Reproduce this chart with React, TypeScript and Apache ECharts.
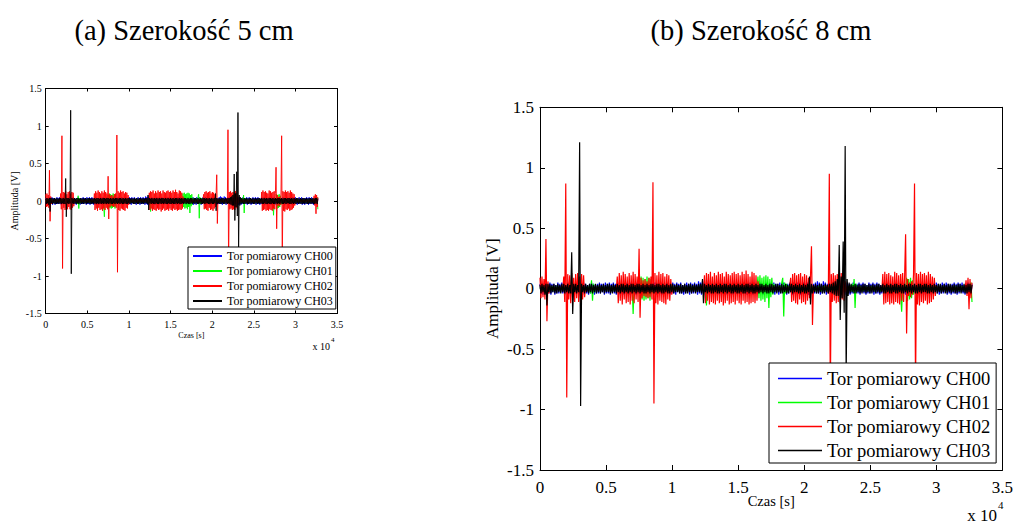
import React, { useEffect, useRef } from "react";
import * as echarts from "echarts";

// time step between samples (s)
const STEP = 75;
const SERIES_NAMES = ["Tor pomiarowy CH00", "Tor pomiarowy CH01", "Tor pomiarowy CH02", "Tor pomiarowy CH03"];
const SERIES_COLORS = ["#0000ff", "#00ff00", "#ff0000", "#000000"];
const X_TICKS_LABELS = ["0", "0.5", "1", "1.5", "2", "2.5", "3", "3.5"];

// CH00 (blue)
const ch00 = [
  0.04,-0.04,0.03,-0.05,0.04,-0.03,0.05,-0.04,0.03,-0.04, 0.05,-0.05,0.04,-0.03,0.04,-0.05,0.03,-0.04,0.05,-0.04, 0.04,-0.03,0.05,-0.04,0.04,-0.05,0.03,-0.04,0.05,-0.03, 0.04,-0.04,0.05,-0.05,0.03,-0.04,0.04,-0.03,0.05,-0.04,
  0.03,-0.04,0.04,-0.05,0.05,-0.03,0.04,-0.04,0.03,-0.05, 0.04,-0.04,0.05,-0.03,0.04,-0.05,0.03,-0.04,0.04,-0.04, 0.05,-0.04,0.04,-0.03,0.04,-0.05,0.05,-0.04,0.04,-0.04, 0.05,-0.05,0.04,-0.03,0.05,-0.04,0.04,-0.05,0.03,-0.04,
  0.05,-0.05,0.04,-0.04,0.03,-0.05,0.04,-0.04,0.05,-0.03, 0.04,-0.05,0.05,-0.04,0.03,-0.04,0.04,-0.05,0.05,-0.04, 0.04,-0.04,0.05,-0.03,0.04,-0.05,0.03,-0.04,0.05,-0.04, 0.04,-0.05,0.05,-0.03,0.04,-0.04,0.05,-0.05,0.04,-0.03,
  0.04,-0.04,0.05,-0.05,0.03,-0.04,0.04,-0.03,0.05,-0.04, 0.04,-0.05,0.03,-0.04,0.05,-0.04,0.04,-0.05,0.05,-0.03, 0.04,-0.04,0.05,-0.04,0.03,-0.05,0.04,-0.04,0.05,-0.03, 0.04,-0.05,0.05,-0.04,0.04,-0.04,0.05,-0.03,0.04,-0.05,
  0.06,-0.04,0.05,-0.05,0.06,-0.04,0.05,-0.05,0.04,-0.03, 0.05,-0.05,0.04,-0.04,0.03,-0.05,0.04,-0.04,0.05,-0.04, 0.04,-0.05,0.05,-0.04,0.04,-0.03,0.05,-0.04,0.03,-0.05, 0.04,-0.04,0.05,-0.03,0.04,-0.05,0.05,-0.04,0.04,-0.04,
  0.05,-0.03,0.04,-0.05,0.04,-0.04,0.05,-0.04,0.03,-0.05, 0.04,-0.04,0.05,-0.03,0.04,-0.05,0.05,-0.04,0.04,-0.04, 0.04,-0.04,0.05,-0.03,0.04,-0.05,0.03,-0.04,0.05,-0.04, 0.04,-0.05,0.05,-0.03,0.04,-0.04,0.05,-0.05,0.04,-0.03,
  0.04,-0.05,0.05,-0.04,0.04,-0.03,0.05,-0.04,0.03,-0.05, 0.04,-0.04,0.05,-0.03,0.04,-0.05,0.05,-0.04,0.04,-0.04, 0.05,-0.04,0.04,-0.05,0.03,-0.04,0.05,-0.04,0.04,-0.03, 0.05,-0.05,0.04,-0.04,0.03,-0.05,0.04,-0.04,0.05,-0.04,
  0.06,-0.04,0.05,-0.05,0.04,-0.04,0.06,-0.03,0.05,-0.05, 0.04,-0.04,0.05,-0.04,0.03,-0.05,0.04,-0.04,0.05,-0.03, 0.04,-0.05,0.05,-0.04,0.04,-0.04,0.05,-0.03,0.04,-0.05, 0.05,-0.04,0.04,-0.05,0.03,-0.04,0.05,-0.04,0.04,-0.03,
  0.04,-0.04,0.05,-0.05,0.04,-0.03,0.05,-0.04,0.04,-0.05, 0.03,-0.04,0.05,-0.04,0.04,-0.03,0.05,-0.05,0.04,-0.04, 0.05,-0.04,0.04,-0.05,0.03,-0.04,0.05,-0.04,0.04,-0.03, 0.05,-0.05,0.04,-0.04,0.03,-0.05,0.04,-0.04,0.05,-0.04,
  0.04,-0.05,0.05,-0.04,0.04,-0.03,0.05,-0.04,0.03,-0.05, 0.04,-0.04,0.05,-0.03,0.04,-0.05,0.05,-0.04,0.04,-0.04, 0.05,-0.03,0.04,-0.05,0.04,-0.04,0.05,-0.04,0.03,-0.05, 0.04,-0.04,0.05,-0.03,0.04,-0.05,0.05,-0.04,0.04,-0.04,
  0.05,-0.04,0.04,-0.05,0.03,-0.04,0.05,-0.04,0.04,-0.03, 0.05,-0.05,0.04,-0.04,0.03,-0.05,0.04,-0.04,0.05,-0.04, 0.04,-0.05,0.05,-0.04,0.04,-0.03,0.05,-0.04,0.03,-0.05, 0.04,-0.04,0.05,-0.03,0.04,-0.05,0.04,
];

// CH01 (green)
const ch01 = [
  0.01,-0.01,0.02,-0.01,0.01,-0.02,0.01,-0.01,0.02,-0.01, 0.01,-0.01,0.02,-0.02,0.01,-0.01,0.02,-0.01,0.01,-0.02, 0.01,-0.01,0.02,-0.01,0.01,-0.02,0.01,-0.01,0.02,-0.01, 0.01,-0.01,0.02,-0.02,0.01,-0.01,0.02,-0.01,0.01,-0.02,
  0.01,-0.01,0.02,-0.01,0.01,-0.02,0.01,-0.01,0.02,-0.01, 0.03,-0.04,0.07,-0.10,0.04,-0.03,0.01,-0.01,0.02,-0.01, 0.01,-0.02,0.01,-0.01,0.02,-0.01,0.01,-0.01,0.02,-0.02, 0.01,-0.01,0.02,-0.01,0.01,-0.02,0.01,-0.01,0.02,-0.01,
  0.01,-0.01,0.02,-0.02,0.01,-0.01,0.02,-0.01,0.01,-0.02, 0.01,-0.01,0.02,0.02,-0.21,0.01,-0.02,0.01,-0.01,0.02, 0.08,-0.10,0.10,-0.09,0.09,-0.10,0.08,-0.09,0.10,-0.08, 0.09,-0.10,0.08,-0.04,0.02,-0.01,0.01,-0.02,0.01,-0.01,
  0.02,-0.01,0.01,-0.02,0.01,-0.01,0.02,-0.01,0.01,-0.01, 0.02,-0.02,0.01,-0.01,0.02,-0.01,0.01,-0.02,0.01,-0.01, 0.02,-0.01,0.01,-0.02,0.01,-0.01,0.02,-0.01,0.01,-0.01, 0.02,-0.02,0.01,-0.01,0.02,-0.01,0.01,-0.02,0.01,-0.01,
  0.02,-0.01,0.01,-0.02,0.01,-0.01,0.02,0.03,-0.14,0.02, -0.01,0.01,-0.02,0.01,-0.01,0.02,-0.01,0.01,-0.02,0.01, -0.01,0.02,-0.01,0.01,-0.02,0.01,-0.01,0.02,-0.01,0.01, -0.02,0.01,-0.01,0.02,-0.01,0.01,-0.02,0.01,-0.01,0.02,
  -0.01,0.01,-0.02,0.01,-0.01,0.02,-0.01,0.01,-0.02,0.01, -0.01,0.02,-0.01,0.01,-0.02,0.01,-0.01,0.02,-0.01,0.01, 0.10,-0.08,0.11,-0.10,0.09,-0.09,0.10,-0.11,0.11,-0.08, 0.10,-0.16,0.08,-0.07,0.09,-0.05,0.04,-0.02,0.01,-0.01,
  0.02,-0.01,0.03,-0.03,0.05,0.09,-0.23,0.05,-0.04,0.04, -0.03,0.02,-0.01,0.01,-0.02,0.01,-0.01,0.02,-0.01,0.01, -0.02,0.01,-0.01,0.02,-0.01,0.01,-0.02,0.01,-0.01,0.02, -0.01,0.01,-0.02,0.01,-0.01,0.02,-0.01,0.01,-0.02,0.01,
  -0.01,0.02,-0.01,0.01,-0.02,0.01,-0.01,0.02,-0.01,0.01, -0.02,0.01,-0.01,0.02,-0.01,0.01,-0.02,0.01,-0.01,0.02, -0.01,0.01,-0.02,0.01,-0.01,0.02,-0.01,0.01,-0.02,0.01, -0.01,0.02,-0.01,0.03,-0.02,0.04,-0.03,0.08,-0.16,0.04,
  -0.02,0.01,-0.01,0.02,-0.01,0.01,-0.02,0.01,-0.01,0.02, -0.01,0.01,-0.02,0.01,-0.01,0.02,-0.01,0.01,-0.02,0.01, -0.01,0.02,-0.01,0.01,-0.02,0.01,-0.01,0.02,-0.01,0.01, -0.02,0.01,-0.01,0.02,-0.01,0.01,-0.02,0.01,-0.01,0.02,
  -0.01,0.01,-0.02,0.03,-0.04,-0.19,0.03,-0.02,0.01,-0.01, 0.09,-0.10,0.08,-0.09,0.09,-0.08,0.07,-0.05,0.02,-0.01, 0.01,-0.02,0.01,-0.01,0.02,-0.01,0.01,-0.02,0.01,-0.01, 0.02,-0.01,0.01,-0.02,0.01,-0.01,0.02,-0.01,0.01,-0.02,
  0.01,-0.01,0.02,-0.01,0.01,-0.02,0.01,-0.01,0.02,-0.01, 0.01,-0.02,0.01,-0.01,0.02,-0.01,0.01,-0.02,0.01,-0.01, 0.02,-0.01,0.01,-0.02,0.01,-0.01,0.02,-0.01,0.01,-0.02, 0.01,-0.01,0.02,-0.03,0.03,0.05,-0.11,
];

// CH02 (red)
const ch02 = [
  0.09,-0.08,0.10,-0.07,0.08,-0.09,0.41,-0.27,0.06,-0.04, 0.01,-0.01,0.01,-0.01,0.01,-0.01,0.01,-0.01,0.01,-0.01, 0.01,-0.01,0.02,-0.01,0.10,-0.11,0.87,-0.90,0.12,-0.09, 0.11,-0.12,0.13,-0.10,0.09,-0.11,0.12,-0.08,0.13,-0.11,
  0.10,-0.12,0.12,-0.09,0.11,-0.07,0.01,-0.01,0.01,-0.01, 0.01,-0.01,0.01,-0.01,0.01,-0.01,0.01,-0.01,0.01,-0.01, 0.01,-0.01,0.01,-0.01,0.01,-0.01,0.01,-0.01,0.01,-0.01, 0.01,-0.01,0.01,-0.01,0.01,-0.01,0.01,-0.01,0.10,-0.12,
  0.13,-0.10,0.11,-0.13,0.14,-0.09,0.12,-0.12,0.10,-0.11, 0.13,-0.13,0.11,-0.10,0.14,-0.12,0.12,-0.09,0.10,-0.11, 0.33,-0.24,0.09,-0.08,0.07,-0.06,0.08,-0.07,0.06,-0.08, 0.09,-0.07,0.10,-0.09,0.88,-0.95,0.13,-0.12,0.11,-0.13,
  0.14,-0.10,0.12,-0.11,0.13,-0.12,0.10,-0.13,0.12,-0.09, 0.11,-0.10,0.08,-0.05,0.01,-0.01,0.01,-0.01,0.01,-0.01, 0.01,-0.01,0.01,-0.01,0.01,-0.01,0.01,-0.01,0.01,-0.01, 0.01,-0.01,0.01,-0.01,0.01,-0.01,0.01,-0.01,0.01,-0.01,
  0.01,-0.01,0.01,-0.01,0.01,-0.02,0.11,-0.12,0.13,-0.10, 0.12,-0.13,0.14,-0.11,0.10,-0.12,0.13,-0.13,0.11,-0.10, 0.14,-0.12,0.12,-0.11,0.13,-0.14,0.10,-0.12,0.14,-0.10, 0.12,-0.13,0.11,-0.12,0.13,-0.11,0.14,-0.13,0.12,-0.10,
  0.13,-0.12,0.11,-0.13,0.14,-0.10,0.12,-0.12,0.15,-0.11, 0.12,-0.13,0.10,-0.12,0.14,-0.11,0.13,-0.12,0.11,-0.10, 0.06,-0.03,0.01,-0.01,0.01,-0.01,0.01,-0.01,0.01,-0.01, 0.01,-0.01,0.01,-0.01,0.01,-0.01,0.01,-0.01,0.01,-0.01,
  0.01,-0.01,0.01,-0.01,0.01,-0.01,0.01,-0.01,0.01,-0.01, 0.01,-0.01,0.02,0.09,-0.11,0.12,-0.10,0.13,-0.12,0.11, -0.13,0.12,-0.09,0.13,-0.12,0.10,-0.11,0.12,-0.13,0.11, -0.10,0.09,-0.08,0.10,0.35,-0.30,0.02,-0.01,0.01,-0.01,
  0.01,-0.01,0.01,-0.01,0.01,-0.01,0.01,-0.01,0.01,-0.01, 0.03,-0.04,0.95,-0.90,0.12,-0.11,0.13,-0.10,0.11,-0.12, 0.12,-0.11,0.10,-0.12,0.13,-0.09,0.11,-0.10,0.06,-0.03, 0.01,-0.01,0.01,-0.01,0.01,-0.01,0.01,-0.01,0.01,-0.01,
  0.01,-0.01,0.01,-0.01,0.01,-0.01,0.01,-0.01,0.01,-0.01, 0.01,-0.01,0.01,-0.01,0.01,-0.01,0.01,-0.01,0.01,-0.01, 0.01,-0.01,0.01,-0.01,0.01,-0.02,0.12,-0.13,0.14,-0.12, 0.12,-0.11,0.13,-0.13,0.11,-0.12,0.10,-0.13,0.14,-0.11,
  0.13,-0.12,0.11,-0.13,0.12,-0.10,0.13,-0.11,0.10,0.45, -0.37,0.08,-0.06,0.05,-0.07,0.06,-0.05,0.12,0.87,-0.85, 0.13,-0.13,0.12,-0.14,0.14,-0.11,0.12,-0.12,0.13,-0.10, 0.11,-0.13,0.14,-0.12,0.12,-0.11,0.10,-0.09,0.09,-0.06,
  0.03,-0.01,0.01,-0.01,0.01,-0.01,0.01,-0.01,0.01,-0.01, 0.01,-0.01,0.01,-0.01,0.01,-0.01,0.01,-0.01,0.01,-0.01, 0.01,-0.01,0.01,-0.01,0.01,-0.01,0.01,-0.01,0.01,-0.01, 0.07,-0.06,0.09,-0.17,0.08,-0.08,0.05,
];

// CH03 (black)
const ch03 = [
  0.03,-0.04,0.04,-0.03,0.03,-0.05,0.04,-0.14,0.04,-0.03, 0.04,-0.04,0.03,-0.03,0.04,-0.04,0.03,-0.04,0.04,-0.03, 0.03,-0.04,0.04,-0.03,0.04,-0.04,0.03,-0.03,0.04,-0.04, 0.03,-0.04,0.30,-0.21,0.04,-0.03,0.04,-0.04,0.03,-0.03,
  1.21,-0.97,0.04,-0.03,0.03,-0.04,0.04,-0.03,0.03,-0.04, 0.04,-0.03,0.04,-0.04,0.03,-0.03,0.04,-0.04,0.03,-0.03, 0.04,-0.04,0.03,-0.03,0.04,-0.04,0.03,-0.03,0.04,-0.03, 0.04,-0.04,0.03,-0.04,0.04,-0.03,0.03,-0.04,0.04,-0.03,
  0.03,-0.04,0.04,-0.03,0.04,-0.04,0.03,-0.03,0.04,-0.04, 0.03,-0.03,0.04,-0.04,0.04,-0.03,0.03,-0.04,0.04,-0.03, 0.04,-0.04,0.03,-0.03,0.04,-0.04,0.03,-0.04,0.04,-0.03, 0.03,-0.04,0.04,-0.03,0.04,-0.04,0.03,-0.03,0.04,-0.04,
  0.04,-0.03,0.03,-0.04,0.04,-0.04,0.03,-0.03,0.04,-0.04, 0.03,-0.04,0.04,-0.03,0.04,-0.04,0.03,-0.03,0.04,-0.03, 0.03,-0.04,0.04,-0.04,0.03,-0.03,0.04,-0.04,0.03,-0.04, 0.04,-0.03,0.04,-0.04,0.03,-0.03,0.04,-0.04,0.03,-0.03,
  0.04,-0.03,0.04,-0.04,0.08,-0.12,0.04,-0.03,0.03,-0.04, 0.04,-0.03,0.03,-0.04,0.04,-0.04,0.03,-0.03,0.04,-0.04, 0.03,-0.04,0.04,-0.03,0.03,-0.04,0.04,-0.03,0.04,-0.04, 0.03,-0.03,0.04,-0.04,0.03,-0.04,0.04,-0.03,0.03,-0.04,
  0.04,-0.04,0.03,-0.03,0.04,-0.04,0.03,-0.04,0.04,-0.03, 0.04,-0.04,0.03,-0.03,0.04,-0.04,0.03,-0.04,0.04,-0.03, 0.03,-0.04,0.04,-0.03,0.04,-0.04,0.03,-0.03,0.04,-0.04, 0.03,-0.04,0.04,-0.03,0.04,-0.04,0.03,-0.03,0.04,-0.04,
  0.04,-0.03,0.03,-0.04,0.04,-0.04,0.03,-0.03,0.04,-0.04, 0.03,-0.04,0.04,-0.03,0.04,-0.04,0.03,-0.03,0.04,-0.03, 0.03,-0.04,0.04,-0.04,0.03,-0.03,0.04,-0.04,0.03,-0.04, 0.04,-0.03,0.10,-0.13,0.04,-0.04,0.03,-0.03,0.04,-0.04,
  0.03,-0.04,0.04,-0.03,0.04,-0.04,0.03,-0.04,0.04,-0.03, 0.03,-0.04,0.04,-0.03,0.04,-0.04,0.05,-0.05,0.06,-0.06, 0.08,-0.06,0.36,-0.26,0.10,-0.08,0.39,-0.20,1.18,-0.72, 0.08,-0.06,0.05,-0.04,0.04,-0.03,0.03,-0.04,0.04,-0.04,
  0.03,-0.03,0.04,-0.04,0.03,-0.04,0.04,-0.03,0.04,-0.04, 0.03,-0.03,0.04,-0.04,0.03,-0.04,0.04,-0.03,0.03,-0.04, 0.04,-0.03,0.04,-0.04,0.03,-0.03,0.04,-0.04,0.03,-0.04, 0.04,-0.03,0.03,-0.04,0.04,-0.04,0.03,-0.03,0.04,-0.04,
  0.04,-0.04,0.03,-0.03,0.04,-0.04,0.03,-0.04,0.04,-0.03, 0.03,-0.04,0.04,-0.03,0.04,-0.04,0.03,-0.03,0.04,-0.04, 0.03,-0.04,0.04,-0.03,0.04,-0.04,0.03,-0.03,0.04,-0.03, 0.04,-0.04,0.03,-0.04,0.04,-0.03,0.03,-0.04,0.04,-0.03,
  0.03,-0.04,0.04,-0.03,0.04,-0.04,0.03,-0.03,0.04,-0.04, 0.03,-0.04,0.04,-0.03,0.04,-0.04,0.03,-0.03,0.04,-0.04, 0.03,-0.04,0.04,-0.03,0.04,-0.04,0.03,-0.03,0.04,-0.04, 0.03,-0.04,0.04,-0.03,0.04,-0.04,0.03,
];

const CHANNELS = [ch00, ch01, ch02, ch03];
const FONT = "'Liberation Serif', 'Times New Roman', serif";

const toPts = (arr: number[]) => arr.map((v, i) => [i * STEP, v]);
const fmtX = (v: number) => X_TICKS_LABELS[Math.round(v / 5000)] ?? "";
const fmtY = (v: number) => String(Math.round(v * 10) / 10);

function axesFor(grid: number, s: any) {
  const common = {
    gridIndex: grid,
    type: "value" as const,
    splitLine: { show: false },
    axisLine: { onZero: false, lineStyle: { color: "#000", width: 1 } },
    axisTick: { inside: true, length: s.tick, lineStyle: { color: "#000" } },
  };
  const xa = [
    {
      ...common,
      position: "bottom",
      min: 0,
      max: 35000,
      interval: 5000,
      axisLabel: { formatter: fmtX, fontSize: s.tickFont, fontFamily: FONT, color: "#000", margin: s.xMargin },
      name: "Czas [s]",
      nameLocation: "middle",
      nameGap: s.xNameGap,
      nameMoveOverlap: false,
      nameTextStyle: { fontSize: s.xNameFont, fontFamily: FONT, color: "#000" },
    },
    {
      ...common,
      position: "top",
      min: 0,
      max: 35000,
      interval: 5000,
      axisLabel: { show: false },
    },
  ];
  const ya = [
    {
      ...common,
      position: "left",
      min: -1.5,
      max: 1.5,
      interval: 0.5,
      axisLabel: { formatter: fmtY, fontSize: s.tickFont, fontFamily: FONT, color: "#000", margin: s.yMargin },
      name: "Amplituda [V]",
      nameLocation: "middle",
      nameGap: s.yNameGap,
      nameMoveOverlap: false,
      nameTextStyle: { fontSize: s.yNameFont, fontFamily: FONT, color: "#000" },
    },
    {
      ...common,
      position: "right",
      min: -1.5,
      max: 1.5,
      interval: 0.5,
      axisLabel: { show: false },
    },
  ];
  return { xa, ya };
}

export default function App() {
  const ref = useRef<HTMLDivElement>(null);
  useEffect(() => {
    if (!ref.current) return;
    const chart = echarts.init(ref.current, undefined, { renderer: "svg" });
    const A = { tick: 3, tickFont: 10, xMargin: 6, yMargin: 4, xNameGap: 18, xNameFont: 8, yNameGap: 26, yNameFont: 10 };
    const B = { tick: 5, tickFont: 17, xMargin: 9, yMargin: 6, xNameGap: 23, xNameFont: 14.5, yNameGap: 39, yNameFont: 17 };
    const a = axesFor(0, A);
    const b = axesFor(1, B);
    const series: any[] = [];
    [0, 1].forEach((g) => {
      CHANNELS.forEach((ch, k) => {
        series.push({
          type: "line",
          name: SERIES_NAMES[k],
          xAxisIndex: g * 2,
          yAxisIndex: g * 2,
          data: toPts(ch),
          symbol: "none",
          lineStyle: { color: SERIES_COLORS[k], width: g === 0 ? 0.9 : 1.2 },
          itemStyle: { color: SERIES_COLORS[k] },
          z: 2 + k,
        });
      });
    });
    chart.setOption({
      animation: false,
      backgroundColor: "#fff",
      grid: [
        { left: 45.7, top: 88.5, width: 291.3, height: 225 },
        { left: 540, top: 107.3, width: 463, height: 362.7 },
      ],
      xAxis: [...a.xa, ...b.xa],
      yAxis: [...a.ya, ...b.ya],
      legend: [
        {
          data: SERIES_NAMES,
          icon: "rect",
          left: 188,
          top: 247,
          orient: "vertical",
          itemWidth: 29,
          itemHeight: 2,
          itemGap: 3,
          padding: [3, 3, 2, 5],
          backgroundColor: "#fff",
          borderColor: "#000",
          borderWidth: 1,
          selectedMode: false,
          textStyle: { fontSize: 12, fontFamily: FONT, color: "#000" },
          z: 10,
        },
        {
          data: SERIES_NAMES,
          icon: "rect",
          left: 769,
          top: 363,
          orient: "vertical",
          itemWidth: 44,
          itemHeight: 1.5,
          itemGap: 5,
          padding: [6, 6, 3, 9],
          backgroundColor: "#fff",
          borderColor: "#000",
          borderWidth: 1,
          selectedMode: false,
          textStyle: { fontSize: 18.5, fontFamily: FONT, color: "#000" },
          z: 10,
        },
      ],
      graphic: [
        { type: "text", x: 184, y: 30, style: { text: "(a) Szerokość 5 cm", fontSize: 28.5, fontFamily: FONT, fill: "#000", textAlign: "center", textVerticalAlign: "middle" } },
        { type: "text", x: 761, y: 30, style: { text: "(b) Szerokość 8 cm", fontSize: 28.5, fontFamily: FONT, fill: "#000", textAlign: "center", textVerticalAlign: "middle" } },
        { type: "text", x: 330, y: 346, style: { text: "x 10", fontSize: 10, fontFamily: FONT, fill: "#000", textAlign: "right", textVerticalAlign: "middle" } },
        { type: "text", x: 331, y: 340, style: { text: "4", fontSize: 7, fontFamily: FONT, fill: "#000", textAlign: "left", textVerticalAlign: "middle" } },
        { type: "text", x: 997, y: 515, style: { text: "x 10", fontSize: 17, fontFamily: FONT, fill: "#000", textAlign: "right", textVerticalAlign: "middle" } },
        { type: "text", x: 998, y: 505, style: { text: "4", fontSize: 11, fontFamily: FONT, fill: "#000", textAlign: "left", textVerticalAlign: "middle" } },
      ],
      series,
    });
    return () => chart.dispose();
  }, []);
  return <div ref={ref} style={{ position: "fixed", left: 0, top: 0, width: 1016, height: 523 }} />;
}
